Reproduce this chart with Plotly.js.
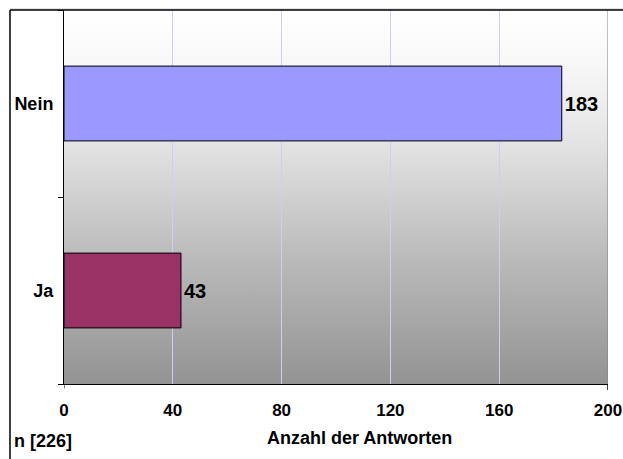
<!DOCTYPE html>
<html>
<head>
<meta charset="utf-8">
<script src="https://cdn.plot.ly/plotly-3.0.1.min.js"></script>
<style>html,body{margin:0;padding:0;background:#fff;}#chart{width:623px;height:459px;}</style>
</head>
<body>
<div id="chart"></div>
<script>
// ---- data ----
const categories = ["Ja", "Nein"];
const values = [43, 183];
const barColors = ["#993366", "#9999FF"];
const xTickVals = [0, 40, 80, 120, 160, 200];
const xTickText = ["0", "40", "80", "120", "160", "200"];
const xTitle = "Anzahl der Antworten";
const footNote = "n [226]";

const FONT = "'Liberation Sans', Arial, sans-serif";

const grad = "<svg xmlns='http://www.w3.org/2000/svg' width='100' height='100' preserveAspectRatio='none'>" +
  "<defs><linearGradient id='g' x1='0' y1='0' x2='0' y2='1'>" +
  "<stop offset='0' stop-color='#ffffff'/>" +
  "<stop offset='0.15' stop-color='#f7f7f7'/>" +
  "<stop offset='0.35' stop-color='#e4e4e4'/>" +
  "<stop offset='0.65' stop-color='#bcbcbc'/>" +
  "<stop offset='1' stop-color='#939393'/>" +
  "</linearGradient></defs><rect width='100' height='100' fill='url(#g)'/></svg>";
const gradURI = "data:image/svg+xml;charset=utf-8," + encodeURIComponent(grad);

const trace = {
  type: "bar",
  orientation: "h",
  y: categories,
  x: values,
  width: 0.4,
  marker: { color: barColors, line: { color: "#000000", width: 1 } },
  text: values.map(String),
  textposition: "outside",
  textfont: { family: FONT, size: 20, color: "#000", weight: 700 },
  cliponaxis: false,
  hoverinfo: "none"
};

const layout = {
  width: 623,
  height: 459,
  margin: { l: 64, r: 15, t: 10, b: 75, pad: 0 },
  paper_bgcolor: "#ffffff",
  plot_bgcolor: "rgba(0,0,0,0)",
  showlegend: false,
  font: { family: FONT, size: 15, color: "#000", weight: 700 },
  xaxis: {
    range: [0, 200],
    tickvals: xTickVals,
    ticktext: xTickText,
    ticks: "",
    showgrid: true,
    gridcolor: "#ccccff",
    gridwidth: 1,
    zeroline: false,
    showline: true,
    linecolor: "#000",
    linewidth: 1,
    ticklabelstandoff: 11,
    tickfont: { family: FONT, size: 17, color: "#000", weight: 700 },
    fixedrange: true
  },
  yaxis: {
    type: "category",
    categoryorder: "array",
    categoryarray: categories,
    range: [-0.5, 1.5],
    tickson: "boundaries",
    ticks: "outside",
    ticklen: 5,
    tickcolor: "#000",
    showgrid: false,
    zeroline: false,
    showline: true,
    linecolor: "#000",
    linewidth: 1,
    ticklabelstandoff: 6,
    tickfont: { family: FONT, size: 18, color: "#000", weight: 700 },
    fixedrange: true
  },
  images: [{
    source: gradURI,
    xref: "paper", yref: "paper",
    x: 0, y: 1, sizex: 1, sizey: 1,
    xanchor: "left", yanchor: "top",
    sizing: "stretch",
    layer: "below"
  }],
  shapes: [
    // right plot border
    { type: "line", xref: "x", yref: "paper", x0: 200, x1: 200, y0: 0, y1: 1, line: { color: "#808080", width: 1 } },
    // end ticks on x axis
    { type: "line", xref: "x", yref: "paper", x0: 0, x1: 0, y0: 0, y1: -0.012, line: { color: "#000", width: 1 } },
    { type: "line", xref: "x", yref: "paper", x0: 200, x1: 200, y0: 0, y1: -0.016, line: { color: "#000", width: 1.5 } },
    // outer chart frame
    { type: "line", xref: "paper", yref: "paper", x0: -0.0993, x1: 1.05, y0: 1.0027, y1: 1.0027, line: { color: "#c8c8c8", width: 1 } },
    { type: "line", xref: "paper", yref: "paper", x0: -0.0993, x1: 1.05, y0: 1, y1: 1, line: { color: "#000", width: 1.5 } },
    { type: "line", xref: "paper", yref: "paper", x0: -0.0993, x1: -0.0993, y0: 1, y1: -0.3, line: { color: "#000", width: 1.5 } }
  ],
  annotations: [
    { text: xTitle, xref: "paper", yref: "paper", x: 0.5423, y: -0.1444, xanchor: "center", yanchor: "middle",
      showarrow: false, font: { family: FONT, size: 18, color: "#000", weight: 700 } },
    { text: footNote, xref: "paper", yref: "paper", x: -0.0955, y: -0.1524, xanchor: "left", yanchor: "middle",
      showarrow: false, font: { family: FONT, size: 18, color: "#000", weight: 700 } }
  ]
};

Plotly.newPlot("chart", [trace], layout, { displayModeBar: false, staticPlot: true });
</script>
</body>
</html>
